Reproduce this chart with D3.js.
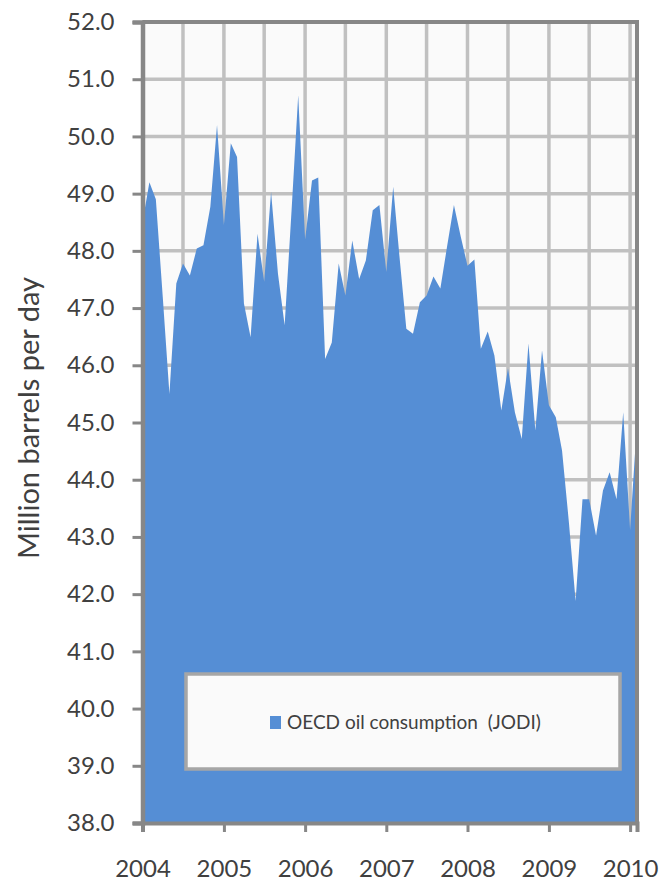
<!DOCTYPE html>
<html>
<head>
<meta charset="utf-8">
<script src="https://cdn.jsdelivr.net/npm/d3@7/dist/d3.min.js"></script>
<style>
  html, body { margin: 0; padding: 0; background: #ffffff; }
  svg { display: block; font-family: Lato, 'Open Sans', sans-serif; }
</style>
</head>
<body>
<div id="chart"></div>
<script>
// OECD oil consumption (JODI), monthly, million barrels per day

const firstMonth = new Date(2004, 0, 1)
const lastMonth = new Date(2010, 1, 1)

// one value per month, Jan 2004 .. Feb 2010
const consumption = [
  48.50, 49.20, 48.90, 47.20, 45.50, 47.43, 47.78, 47.57, 48.04, 48.10, 48.77, 50.20,
  48.45, 49.88, 49.64, 47.08, 46.49, 48.30, 47.46, 49.03, 47.60, 46.70, 48.70, 50.72,
  48.20, 49.23, 49.28, 46.11, 46.40, 47.78, 47.22, 48.18, 47.51, 47.83, 48.71, 48.80,
  47.63, 49.12, 47.91, 46.64, 46.55, 47.10, 47.22, 47.55, 47.34, 48.07, 48.80, 48.26,
  47.74, 47.85, 46.29, 46.59, 46.17, 45.21, 45.95, 45.18, 44.71, 46.38, 44.86, 46.26,
  45.30, 45.09, 44.51, 43.25, 41.88, 43.66, 43.66, 43.02, 43.81, 44.13, 43.66, 45.18,
  43.12, 45.00
]

const months = d3.timeMonth.range(firstMonth, d3.timeMonth.offset(lastMonth, 1))
const yTicks = [38, 39, 40, 41, 42, 43, 44, 45, 46, 47, 48, 49, 50, 51, 52]
const yearTicks = [2004, 2005, 2006, 2007, 2008, 2009, 2010]
const seriesName = 'OECD oil consumption\u00a0\u00a0(JODI)'
const yTitle = 'Million barrels per day'

const data = months.map((m, i) => ({ date: m, value: consumption[i] }))

const width = 666
const height = 882
const margin = { top: 22, right: 29, bottom: 59, left: 142.5 }
const plotW = width - margin.left - margin.right
const plotH = height - margin.top - margin.bottom

const axisGray = '#878787'
const gridGray = '#c0c0c0'
const textColor = '#404040'
const fillBlue = '#558ed5'

const svg = d3.select('#chart')
  .append('svg')
  .attr('width', width)
  .attr('height', height)

const g = svg.append('g')
  .attr('transform', `translate(${margin.left},${margin.top})`)

const x = d3.scaleTime()
  .domain([firstMonth, lastMonth])
  .range([0, plotW])

const y = d3.scaleLinear()
  .domain([38, 52])
  .range([plotH, 0])

// plot background
g.append('rect')
  .attr('width', plotW)
  .attr('height', plotH)
  .attr('fill', '#fafafa')

// gridlines: horizontal every 1.0, vertical every half year
g.append('g')
  .selectAll('line')
  .data(yTicks)
  .enter()
  .append('line')
  .attr('x1', 0)
  .attr('x2', plotW)
  .attr('y1', d => y(d))
  .attr('y2', d => y(d))
  .attr('stroke', gridGray)
  .attr('stroke-width', 3.5)

const halfYears = d3.timeMonth.every(6).range(firstMonth, lastMonth).filter(d => d > firstMonth)
g.append('g')
  .selectAll('line')
  .data(halfYears)
  .enter()
  .append('line')
  .attr('x1', d => x(d))
  .attr('x2', d => x(d))
  .attr('y1', 0)
  .attr('y2', plotH)
  .attr('stroke', gridGray)
  .attr('stroke-width', 3.5)

// area
const area = d3.area()
  .x(d => x(d.date))
  .y0(y(38))
  .y1(d => y(d.value))

g.append('path')
  .datum(data)
  .attr('fill', fillBlue)
  .attr('d', area)

// plot border (top + right)
g.append('path')
  .attr('d', `M0,0H${plotW}V${plotH}`)
  .attr('fill', 'none')
  .attr('stroke', axisGray)
  .attr('stroke-width', 4)

// y axis
const yAxis = g.append('g')
  .call(d3.axisLeft(y).tickValues(yTicks).tickFormat(d3.format('.1f')).tickSize(10).tickPadding(18))
yAxis.select('.domain')
  .attr('stroke', axisGray)
  .attr('stroke-width', 4.5)
yAxis.selectAll('.tick line')
  .attr('stroke', axisGray)
  .attr('stroke-width', 3)
yAxis.selectAll('.tick text')
  .attr('fill', textColor)
  .style('font-size', '24px')
  .style('font-family', 'Lato, sans-serif')

// x axis
const xAxis = g.append('g')
  .attr('transform', `translate(0,${plotH})`)
  .call(d3.axisBottom(x)
    .tickValues(yearTicks.map(yr => new Date(yr, 0, 1)))
    .tickFormat(d3.timeFormat('%Y'))
    .tickSize(9)
    .tickPadding(28))
xAxis.select('.domain')
  .attr('stroke', axisGray)
  .attr('stroke-width', 4)
xAxis.selectAll('.tick line')
  .attr('stroke', axisGray)
  .attr('stroke-width', 3)
xAxis.selectAll('.tick text')
  .attr('fill', textColor)
  .style('font-size', '24px')
  .style('font-family', 'Lato, sans-serif')

// y axis title
svg.append('text')
  .attr('transform', `translate(39,418) rotate(-90)`)
  .attr('text-anchor', 'middle')
  .attr('fill', textColor)
  .style('font-size', '29px')
  .text(yTitle)

// legend
const legend = svg.append('g')
  .attr('transform', 'translate(186,674)')

legend.append('rect')
  .attr('width', 434)
  .attr('height', 95)
  .attr('fill', '#fafafa')
  .attr('stroke', '#a6a6a6')
  .attr('stroke-width', 3.5)

legend.append('rect')
  .attr('x', 84)
  .attr('y', 42)
  .attr('width', 11)
  .attr('height', 13)
  .attr('fill', fillBlue)

legend.append('text')
  .attr('x', 101)
  .attr('y', 55)
  .attr('fill', textColor)
  .style('font-size', '19px')
  .text(seriesName)
</script>
</body>
</html>
